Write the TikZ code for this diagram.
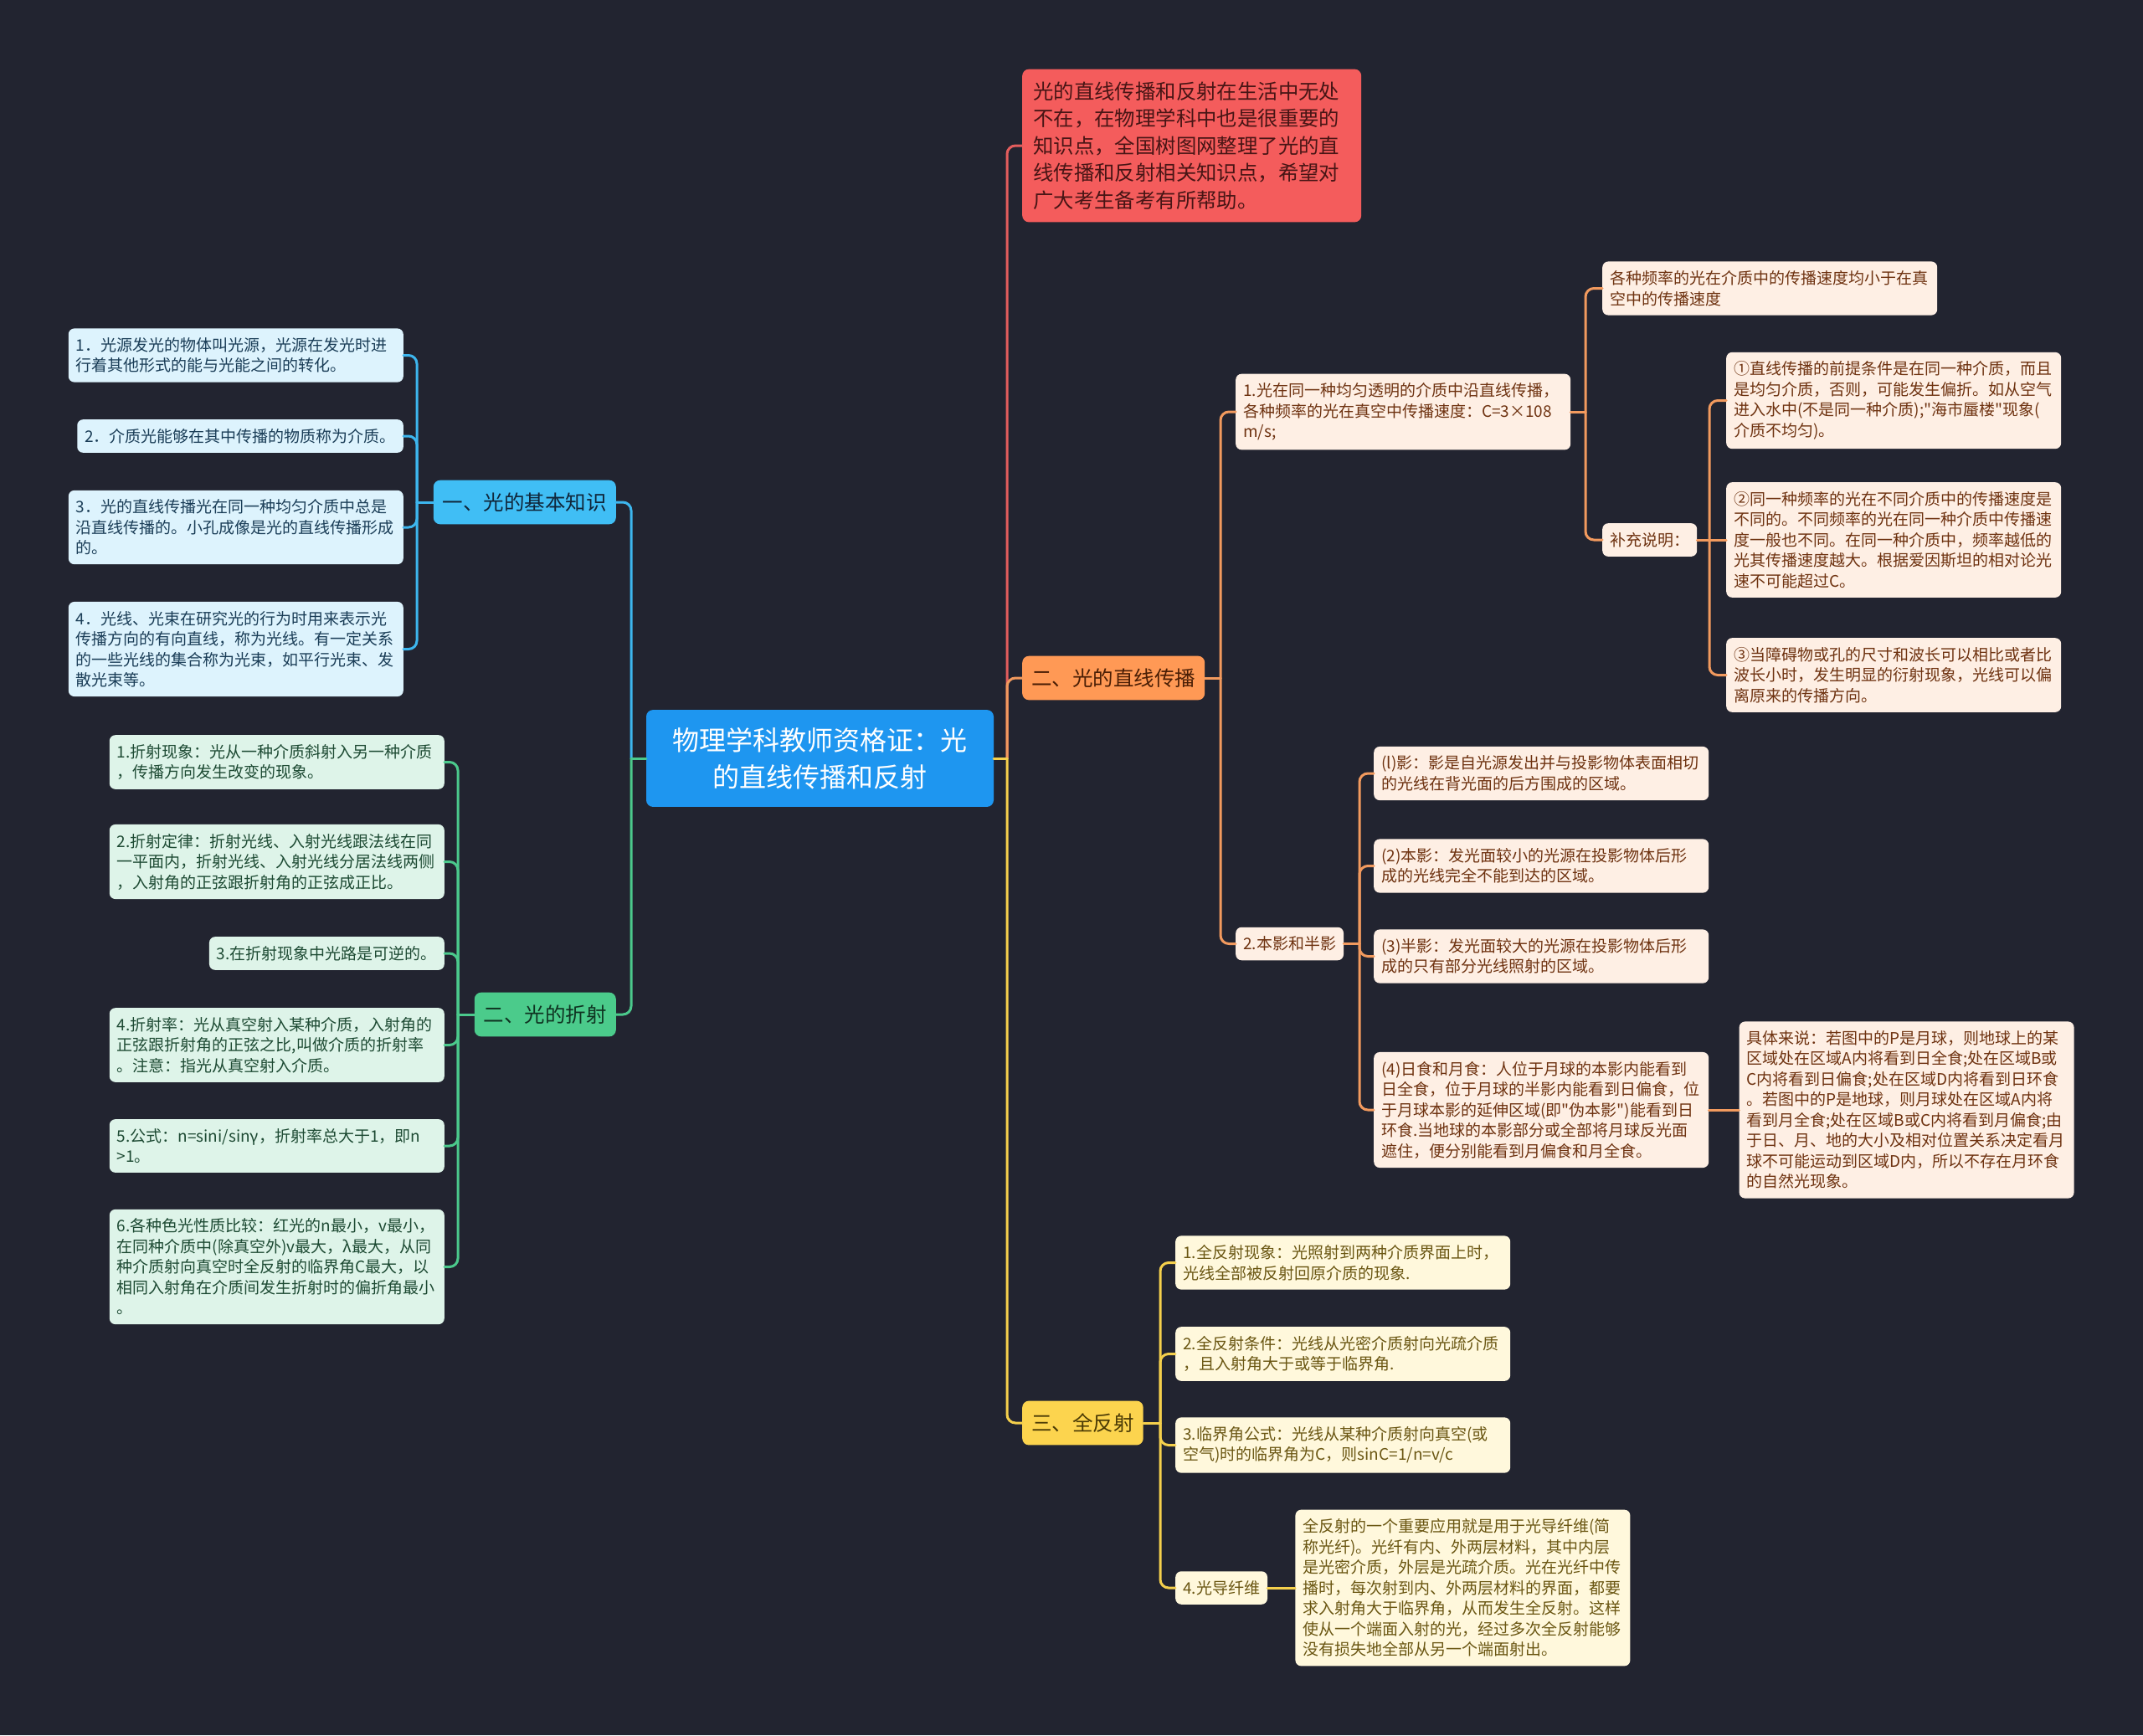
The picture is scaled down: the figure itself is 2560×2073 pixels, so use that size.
\documentclass[tikz,border=0pt]{standalone}
\usepackage{fontspec}
\setmainfont{Noto Sans CJK SC}[Ligatures=TeXOff]
\usetikzlibrary{positioning}

\definecolor{bgdark}{HTML}{222430}
\definecolor{rootblue}{HTML}{1E96F0}
\definecolor{introfill}{HTML}{F45C5C}
\definecolor{introtext}{HTML}{481515}
\definecolor{introline}{HTML}{E35D5D}
\definecolor{bluefill}{HTML}{40BEF5}
\definecolor{bluetext}{HTML}{10263A}
\definecolor{blueleaf}{HTML}{DDF3FD}
\definecolor{blueleaftext}{HTML}{1A3D57}
\definecolor{blueline}{HTML}{3DB6EE}
\definecolor{greenfill}{HTML}{4BCB8B}
\definecolor{greentext}{HTML}{0F3321}
\definecolor{greenleaf}{HTML}{DEF4E9}
\definecolor{greenleaftext}{HTML}{1D4A33}
\definecolor{greenline}{HTML}{4BC98C}
\definecolor{orangefill}{HTML}{FF9955}
\definecolor{orangetext}{HTML}{4A1E05}
\definecolor{orangeleaf}{HTML}{FEEFE4}
\definecolor{orangeleaftext}{HTML}{6E3210}
\definecolor{orangeline}{HTML}{F29A5E}
\definecolor{yellowfill}{HTML}{FCD44E}
\definecolor{yellowtext}{HTML}{4A3A05}
\definecolor{yellowleaf}{HTML}{FFF8DC}
\definecolor{yellowleaftext}{HTML}{6A5612}
\definecolor{yellowline}{HTML}{F5D04C}

\begin{document}
\begin{tikzpicture}[
    x=1pt, y=-1pt,
    box/.style={
        rounded corners=7pt,
        inner xsep=9pt,
        inner ysep=11pt,
        align=left,
        font=\fontsize{19}{24.5}\selectfont
    },
    wide/.style={text width=382pt},
    topic/.style={
        rounded corners=8pt,
        inner xsep=11pt,
        inner ysep=15pt,
        font=\fontsize{24.5}{30}\selectfont
    },
    bleaf/.style={box, fill=blueleaf, text=blueleaftext},
    gleaf/.style={box, fill=greenleaf, text=greenleaftext},
    oleaf/.style={box, fill=orangeleaf, text=orangeleaftext},
    yleaf/.style={box, fill=yellowleaf, text=yellowleaftext},
    link/.style={line width=3pt, rounded corners=10pt, line cap=round}
]

\fill[bgdark] (0,0) rectangle (2560,2073);

% 中心主题
\node[fill=rootblue, text=white, rounded corners=8pt, align=center,
    text width=375pt, inner xsep=20pt, inner ysep=21pt,
    font=\fontsize{32}{44}\selectfont] (root) at (979.5,906)
    {物理学科教师资格证：光\\的直线传播和反射};

% 导语
\node[fill=introfill, text=introtext, rounded corners=8pt, align=left,
    text width=379pt, inner xsep=13pt, inner ysep=15pt,
    font=\fontsize{24.4}{32.5}\selectfont, anchor=west] (intro) at (1221,174)
    {光的直线传播和反射在生活中无处\\不在，在物理学科中也是很重要的\\知识点，全国树图网整理了光的直\\线传播和反射相关知识点，希望对\\广大考生备考有所帮助。};

% 一、光的基本知识
\node[topic, fill=bluefill, text=bluetext, anchor=east] (basic) at (736,600) {一、光的基本知识};
\node[bleaf, wide, anchor=east] (b1) at (482,424.5)
    {1．光源发光的物体叫光源，光源在发光时进\\行着其他形式的能与光能之间的转化。};
\node[bleaf, anchor=east] (b2) at (482,521)
    {2．介质光能够在其中传播的物质称为介质。};
\node[bleaf, wide, anchor=east] (b3) at (482,630)
    {3．光的直线传播光在同一种均匀介质中总是\\沿直线传播的。小孔成像是光的直线传播形成\\的。};
\node[bleaf, wide, anchor=east] (b4) at (482,775.5)
    {4．光线、光束在研究光的行为时用来表示光\\传播方向的有向直线，称为光线。有一定关系\\的一些光线的集合称为光束，如平行光束、发\\散光束等。};

% 二、光的折射
\node[topic, fill=greenfill, text=greentext, anchor=east] (refr) at (736,1212) {二、光的折射};
\node[gleaf, wide, anchor=east] (g1) at (531,910.5)
    {1.折射现象：光从一种介质斜射入另一种介质\\，传播方向发生改变的现象。};
\node[gleaf, wide, anchor=east] (g2) at (531,1029.5)
    {2.折射定律：折射光线、入射光线跟法线在同\\一平面内，折射光线、入射光线分居法线两侧\\，入射角的正弦跟折射角的正弦成正比。};
\node[gleaf, anchor=east] (g3) at (531,1139)
    {3.在折射现象中光路是可逆的。};
\node[gleaf, wide, anchor=east] (g4) at (531,1248.5)
    {4.折射率：光从真空射入某种介质，入射角的\\正弦跟折射角的正弦之比,叫做介质的折射率\\。注意：指光从真空射入介质。};
\node[gleaf, wide, anchor=east] (g5) at (531,1369)
    {5.公式：n=sini/sinγ，折射率总大于1，即n\\>1。};
\node[gleaf, wide, anchor=east] (g6) at (531,1513.5)
    {6.各种色光性质比较：红光的n最小，v最小，\\在同种介质中(除真空外)v最大，λ最大，从同\\种介质射向真空时全反射的临界角C最大，以\\相同入射角在介质间发生折射时的偏折角最小\\。};

% 二、光的直线传播
\node[topic, fill=orangefill, text=orangetext, anchor=west] (straight) at (1221,810) {二、光的直线传播};
\node[oleaf, wide, anchor=west] (o1) at (1476,492)
    {1.光在同一种均匀透明的介质中沿直线传播，\\各种频率的光在真空中传播速度：C=3×108\\m/s;};
\node[oleaf, wide, anchor=west] (o1a) at (1914,344.5)
    {各种频率的光在介质中的传播速度均小于在真\\空中的传播速度};
\node[oleaf, anchor=west] (o1b) at (1914,645) {补充说明：};
\node[oleaf, wide, anchor=west] (o1b1) at (2062,478.5)
    {①直线传播的前提条件是在同一种介质，而且\\是均匀介质，否则，可能发生偏折。如从空气\\进入水中(不是同一种介质);"海市蜃楼"现象(\\介质不均匀)。};
\node[oleaf, wide, anchor=west] (o1b2) at (2062,645)
    {②同一种频率的光在不同介质中的传播速度是\\不同的。不同频率的光在同一种介质中传播速\\度一般也不同。在同一种介质中，频率越低的\\光其传播速度越大。根据爱因斯坦的相对论光\\速不可能超过C。};
\node[oleaf, wide, anchor=west] (o1b3) at (2062,806.5)
    {③当障碍物或孔的尺寸和波长可以相比或者比\\波长小时，发生明显的衍射现象，光线可以偏\\离原来的传播方向。};
\node[oleaf, anchor=west] (o2) at (1476,1127.5) {2.本影和半影};
\node[oleaf, wide, anchor=west] (o2a) at (1641,924)
    {(l)影：影是自光源发出并与投影物体表面相切\\的光线在背光面的后方围成的区域。};
\node[oleaf, wide, anchor=west] (o2b) at (1641,1034.5)
    {(2)本影：发光面较小的光源在投影物体后形\\成的光线完全不能到达的区域。};
\node[oleaf, wide, anchor=west] (o2c) at (1641,1142.5)
    {(3)半影：发光面较大的光源在投影物体后形\\成的只有部分光线照射的区域。};
\node[oleaf, wide, anchor=west] (o2d) at (1641,1326)
    {(4)日食和月食：人位于月球的本影内能看到\\日全食，位于月球的半影内能看到日偏食，位\\于月球本影的延伸区域(即"伪本影")能看到日\\环食.当地球的本影部分或全部将月球反光面\\遮住，便分别能看到月偏食和月全食。};
\node[oleaf, wide, right=36pt of o2d] (o2d1)
    {具体来说：若图中的P是月球，则地球上的某\\区域处在区域A内将看到日全食;处在区域B或\\C内将看到日偏食;处在区域D内将看到日环食\\。若图中的P是地球，则月球处在区域A内将\\看到月全食;处在区域B或C内将看到月偏食;由\\于日、月、地的大小及相对位置关系决定看月\\球不可能运动到区域D内，所以不存在月环食\\的自然光现象。};

% 三、全反射
\node[topic, fill=yellowfill, text=yellowtext, anchor=west] (total) at (1221,1700) {三、全反射};
\node[yleaf, wide, anchor=west] (y1) at (1404,1508.5)
    {1.全反射现象：光照射到两种介质界面上时，\\光线全部被反射回原介质的现象.};
\node[yleaf, wide, anchor=west] (y2) at (1404,1617.5)
    {2.全反射条件：光线从光密介质射向光疏介质\\，且入射角大于或等于临界角.};
\node[yleaf, wide, anchor=west] (y3) at (1404,1726.5)
    {3.临界角公式：光线从某种介质射向真空(或\\空气)时的临界角为C，则sinC=1/n=v/c};
\node[yleaf, anchor=west] (y4) at (1404,1897) {4.光导纤维};
\node[yleaf, wide, right=33pt of y4] (y4a)
    {全反射的一个重要应用就是用于光导纤维(简\\称光纤)。光纤有内、外两层材料，其中内层\\是光密介质，外层是光疏介质。光在光纤中传\\播时，每次射到内、外两层材料的界面，都要\\求入射角大于临界角，从而发生全反射。这样\\使从一个端面入射的光，经过多次全反射能够\\没有损失地全部从另一个端面射出。};

% 分支连线
\coordinate (jl) at (754,906);
\coordinate (jr) at (1203,906);
\coordinate (jb) at (498,600);
\coordinate (jg) at (547,1212);
\coordinate (jo) at (1458,810);
\coordinate (jo1) at (1894,492);
\coordinate (jo1b) at (2042,645);
\coordinate (jo2) at (1624,1127.5);
\coordinate (jy) at (1386,1700);

\draw[link, blueline] (basic.east) -| (jl);
\draw[link, greenline] (refr.east) -| (jl);
\draw[link, greenline] (jl) -- (root.west);

\draw[link, introline] (intro.west) -| (jr);
\draw[link, orangeline] (straight.west) -| (jr);
\draw[link, yellowline] (total.west) -| (jr);
\draw[link, yellowline] (jr) -- (root.east);

\foreach \n in {b1,b2,b3,b4}
    \draw[link, blueline] (\n.east) -| (jb);
\draw[link, blueline] (jb) -- (basic.west);

\foreach \n in {g1,g2,g3,g4,g5,g6}
    \draw[link, greenline] (\n.east) -| (jg);
\draw[link, greenline] (jg) -- (refr.west);

\foreach \n in {o1,o2}
    \draw[link, orangeline] (\n.west) -| (jo);
\draw[link, orangeline] (jo) -- (straight.east);

\foreach \n in {o1a,o1b}
    \draw[link, orangeline] (\n.west) -| (jo1);
\draw[link, orangeline] (jo1) -- (o1.east);

\foreach \n in {o1b1,o1b3}
    \draw[link, orangeline] (\n.west) -| (jo1b);
\draw[link, orangeline] (o1b.east) -- (o1b2.west);

\foreach \n in {o2a,o2b,o2c,o2d}
    \draw[link, orangeline] (\n.west) -| (jo2);
\draw[link, orangeline] (jo2) -- (o2.east);
\draw[link, orangeline] (o2d) -- (o2d1);

\foreach \n in {y1,y2,y3,y4}
    \draw[link, yellowline] (\n.west) -| (jy);
\draw[link, yellowline] (jy) -- (total.east);
\draw[link, yellowline] (y4) -- (y4a);

\end{tikzpicture}
\end{document}
